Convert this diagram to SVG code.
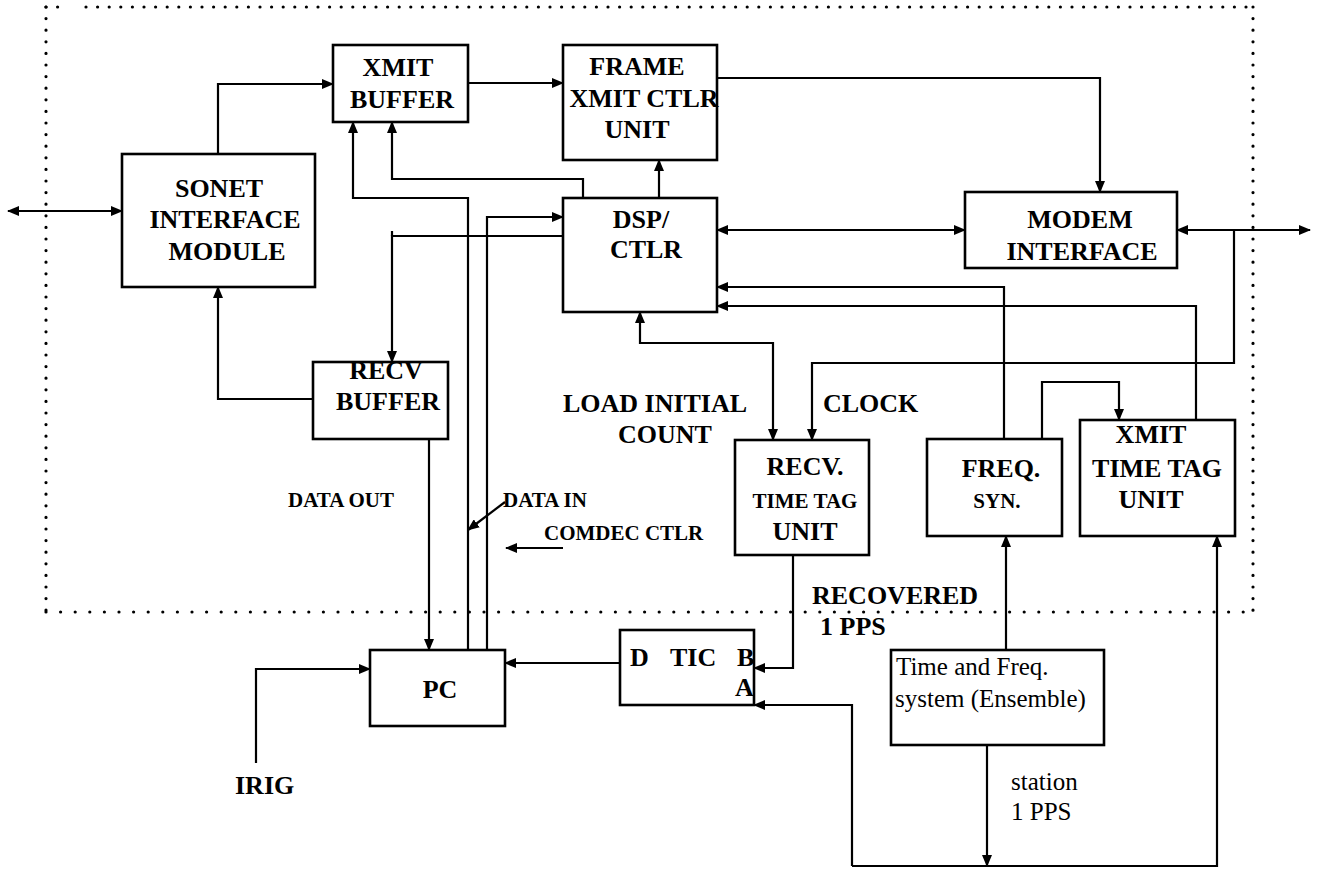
<svg xmlns="http://www.w3.org/2000/svg" width="1318" height="884" viewBox="0 0 1318 884">
<style>
.box{fill:#fff;stroke:#000;stroke-width:2.6}
.ln{fill:none;stroke:#000;stroke-width:2.2}
.dot{fill:none;stroke:#000;stroke-width:3.2;stroke-linecap:round}
.b{font-family:"Liberation Serif","Times New Roman",serif;font-weight:bold;font-size:26px;fill:#000}
.s{font-family:"Liberation Serif","Times New Roman",serif;font-weight:bold;font-size:21px;fill:#000}
.r{font-family:"Liberation Serif","Times New Roman",serif;font-size:25px;fill:#000}
.m{text-anchor:middle}
</style>
<defs>
<marker id="ah" markerUnits="userSpaceOnUse" markerWidth="12" markerHeight="10" refX="11" refY="5" orient="auto-start-reverse">
<path d="M0,0 L12,5 L0,10 z" fill="#000"/>
</marker>
</defs>
<rect width="1318" height="884" fill="#fff"/>
<g id="boundary">
<path class="dot" d="M46,7 H62 M86,7 H1253" stroke-dasharray="0 11.6"/>
<path class="dot" d="M46,7 V612" stroke-dasharray="0 11.6"/>
<path class="dot" d="M1253,7 V612" stroke-dasharray="0 11.6"/>
<path class="dot" d="M46,612 H1253" stroke-dasharray="0 14.6"/>
</g>
<g id="connectors">
<path class="ln" d="M8,211 H122" marker-start="url(#ah)" marker-end="url(#ah)"/>
<path class="ln" d="M218,154 V84 H333" marker-end="url(#ah)"/>
<path class="ln" d="M468,83 H563" marker-end="url(#ah)"/>
<path class="ln" d="M717,78 H1100 V192" marker-end="url(#ah)"/>
<path class="ln" d="M659,198 V160" marker-end="url(#ah)"/>
<path class="ln" d="M717,230 H965" marker-start="url(#ah)" marker-end="url(#ah)"/>
<path class="ln" d="M1177,230 H1310" marker-start="url(#ah)" marker-end="url(#ah)"/>
<path class="ln" d="M1234,230 V363 H812 V440" marker-end="url(#ah)"/>
<path class="ln" d="M640,312 V343 H773 V440" marker-start="url(#ah)" marker-end="url(#ah)"/>
<path class="ln" d="M1004,439 V287 H717" marker-end="url(#ah)"/>
<path class="ln" d="M1196,420 V306 H717" marker-end="url(#ah)"/>
<path class="ln" d="M1042,439 V382 H1119 V420" marker-end="url(#ah)"/>
<path class="ln" d="M468,650 V198 H353 V122" marker-end="url(#ah)"/>
<path class="ln" d="M583,198 V179 H392 V122" marker-end="url(#ah)"/>
<path class="ln" d="M487,650 V217 H563" marker-end="url(#ah)"/>
<path class="ln" d="M563,236 H392 V362" marker-end="url(#ah)"/>
<path class="ln" d="M392,236 V231"/>
<path class="ln" d="M313,399 H218 V287" marker-end="url(#ah)"/>
<path class="ln" d="M429,439 V650" marker-end="url(#ah)"/>
<path class="ln" d="M505,502 L468,530" marker-end="url(#ah)"/>
<path class="ln" d="M563,548 H506" marker-end="url(#ah)"/>
<path class="ln" d="M256,763 V669 H370" marker-end="url(#ah)"/>
<path class="ln" d="M620,663 H505" marker-end="url(#ah)"/>
<path class="ln" d="M793,555 V668 H754" marker-end="url(#ah)"/>
<path class="ln" d="M1006,650 V536" marker-end="url(#ah)"/>
<path class="ln" d="M987,745 V866" marker-end="url(#ah)"/>
<path class="ln" d="M852,866 V705 H754" marker-end="url(#ah)"/>
<path class="ln" d="M852,866 H1217 V536" marker-end="url(#ah)"/>
</g>
<g id="sonet">
<rect class="box" x="122" y="154" width="193" height="133"/>
<text class="b m" x="219" y="197">SONET</text>
<text class="b m" x="225" y="228">INTERFACE</text>
<text class="b m" x="227" y="260">MODULE</text>
</g>
<g id="xmit-buffer">
<rect class="box" x="333" y="45" width="135" height="77"/>
<text class="b m" x="398" y="76">XMIT</text>
<text class="b m" x="402" y="108">BUFFER</text>
</g>
<g id="frame-xmit">
<rect class="box" x="563" y="45" width="154" height="115"/>
<text class="b m" x="637" y="75">FRAME</text>
<text class="b m" x="644" y="107">XMIT CTLR</text>
<text class="b m" x="637" y="138">UNIT</text>
</g>
<g id="dsp">
<rect class="box" x="563" y="198" width="154" height="114"/>
<text class="b m" x="641" y="228">DSP/</text>
<text class="b m" x="646" y="258">CTLR</text>
</g>
<g id="modem">
<rect class="box" x="965" y="192" width="212" height="76"/>
<text class="b m" x="1080" y="228">MODEM</text>
<text class="b m" x="1082" y="260">INTERFACE</text>
</g>
<g id="recv-buffer">
<rect class="box" x="313" y="362" width="135" height="77"/>
<text class="b m" x="386" y="379">RECV</text>
<text class="b m" x="388" y="410">BUFFER</text>
</g>
<g id="recv-tt">
<rect class="box" x="735" y="440" width="134" height="115"/>
<text class="b m" x="805" y="475">RECV.</text>
<text class="s m" x="805" y="508">TIME TAG</text>
<text class="b m" x="805" y="540">UNIT</text>
</g>
<g id="freq-syn">
<rect class="box" x="927" y="439" width="135" height="97"/>
<text class="b m" x="1001" y="477">FREQ.</text>
<text class="s m" x="997" y="508">SYN.</text>
</g>
<g id="xmit-tt">
<rect class="box" x="1080" y="420" width="155" height="116"/>
<text class="b m" x="1151" y="443">XMIT</text>
<text class="b m" x="1157" y="477">TIME TAG</text>
<text class="b m" x="1151" y="508">UNIT</text>
</g>
<g id="pc">
<rect class="box" x="370" y="650" width="135" height="76"/>
<text class="b m" x="440" y="698">PC</text>
</g>
<g id="dtic">
<rect class="box" x="620" y="630" width="134" height="75"/>
<text class="b" x="630" y="666">D</text>
<text class="b" x="670" y="666">TIC</text>
<text class="b" x="737" y="666">B</text>
<text class="b" x="735" y="696">A</text>
</g>
<g id="time-freq">
<rect class="box" x="891" y="650" width="213" height="95"/>
<text class="r" x="896" y="675">Time and Freq.</text>
<text class="r" x="895" y="707">system (Ensemble)</text>
</g>
<g id="labels">
<text class="s" x="288" y="507">DATA OUT</text>
<text class="s" x="503" y="507">DATA IN</text>
<text class="s" x="544" y="540">COMDEC CTLR</text>
<text class="b m" x="655" y="412">LOAD INITIAL</text>
<text class="b m" x="665" y="443">COUNT</text>
<text class="b" x="823" y="412">CLOCK</text>
<text class="b" x="812" y="604">RECOVERED</text>
<text class="b" x="820" y="635">1 PPS</text>
<text class="b" x="235" y="794">IRIG</text>
<text class="r" x="1011" y="790">station</text>
<text class="r" x="1011" y="820">1 PPS</text>
</g>
</svg>
